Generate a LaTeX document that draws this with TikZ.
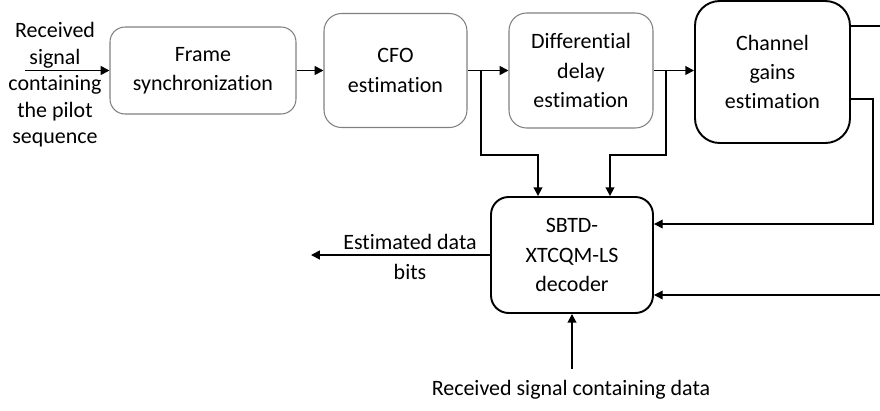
\documentclass[tikz,border=0pt]{standalone}
\usepackage{fontspec}
\setmainfont{Carlito}[Ligatures=NoCommon]
\usetikzlibrary{arrows.meta, positioning}

\begin{document}
\begin{tikzpicture}[x=0.02cm, y=-0.02cm,
    every node/.style={font=\fontsize{12.5}{16.7}\selectfont, align=center, inner sep=0pt},
    greybox/.style={draw=black!50, line width=0.6pt, rounded corners=10pt},
    blackbox/.style={draw=black, line width=1.1pt, rounded corners=12pt},
    link/.style={line width=1pt, -{Triangle[length=5pt, width=5pt]}},
    thinlink/.style={line width=0.7pt, -{Triangle[length=5pt, width=5pt]}}]
  \useasboundingbox (0,0) rectangle (880,410);

  \node[greybox, rounded corners=8.5pt, minimum width=3.72cm, minimum height=1.74cm] (frame) at (203,70.5) {Frame\\synchronization};
  \node[greybox, minimum width=2.86cm, minimum height=2.28cm] (cfo) at (395.5,70.5) {CFO\\estimation};
  \node[greybox, minimum width=2.88cm, minimum height=2.30cm] (delay) at (581,70.5) {Differential\\delay\\estimation};
  \node[blackbox, rounded corners=14pt, minimum width=3.10cm, minimum height=2.84cm] (gains) at (772.5,72) {Channel\\gains\\estimation};
  \node[blackbox, rounded corners=10pt, minimum width=3.24cm, minimum height=2.32cm] (decoder) at (572,255) {SBTD-\\XTCQM-LS\\decoder};

  \node[font=\fontsize{12.5}{15.1}\selectfont] (pilot) at (55,85) {Received\\signal\\containing\\the pilot\\sequence};
  \node (bits) at (410,257) {Estimated data\\bits};
  \node (data) at (571,390) {Received signal containing data};

  \coordinate (pilotIn) at (25,70.5);
  \coordinate (bitsOut) at (311,255);
  \coordinate (dataIn) at (572,369);
  \coordinate (split1) at (481,70.5);
  \coordinate (split2) at (666,70.5);
  \coordinate (down1) at (538,155);
  \coordinate (down2) at (610,155);
  \coordinate (loop) at (873,99);
  \coordinate (edgeTop) at (880,26);
  \coordinate (edgeBot) at (880,295);

  \draw[link] (pilotIn) -- (frame.west);
  \draw[link] (frame.east) -- (cfo.west);
  \draw[link] (cfo.east) -- (delay.west);
  \draw[link] (delay.east) -- (delay.east -| gains.west);
  \draw[link] (split1) |- (down1) -- (down1 |- decoder.north);
  \draw[link] (split2) |- (down2) -- (down2 |- decoder.north);
  \draw[line width=0.7pt] (edgeTop -| gains.east) -- (edgeTop);
  \draw[thinlink] (loop -| gains.east) -- (loop) |- ([yshift=0.62cm]decoder.east);
  \draw[thinlink] (edgeBot) -- (edgeBot -| decoder.east);
  \draw[link] (dataIn) -- (decoder.south);
  \draw[link] (decoder.west) -- (bitsOut);
\end{tikzpicture}
\end{document}
